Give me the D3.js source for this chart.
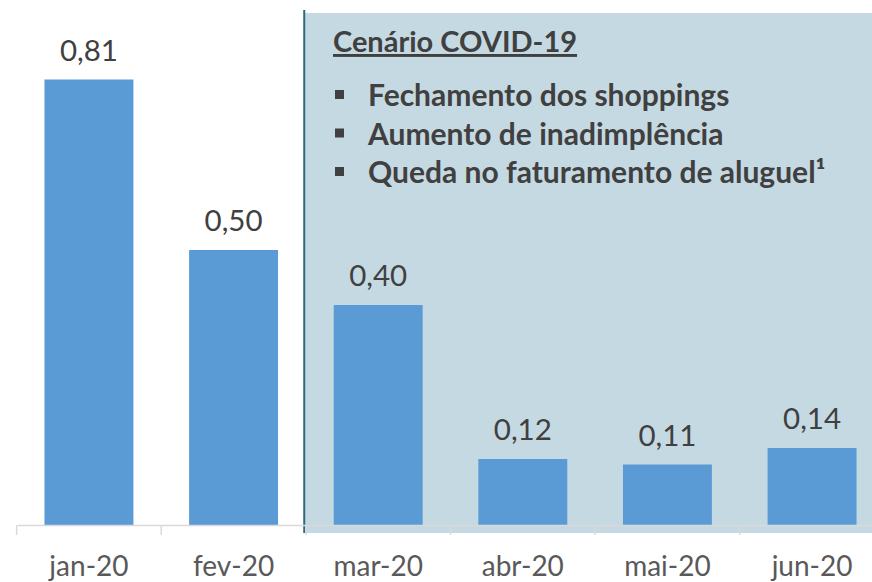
<!DOCTYPE html>
<html>
<head>
<meta charset="utf-8">
<script src="https://cdn.jsdelivr.net/npm/d3@7"></script>
<style>
  body { margin: 0; background: #fff; }
  text { font-family: Lato, "Open Sans", sans-serif; }
</style>
</head>
<body>
<div id="chart"></div>
<script>
var months = ["jan-20", "fev-20", "mar-20", "abr-20", "mai-20", "jun-20"];
var values = [0.81, 0.50, 0.40, 0.12, 0.11, 0.14];
var noteTitle = "Cenário COVID-19";
var noteItems = ["Fechamento dos shoppings", "Aumento de inadimplência", "Queda no faturamento de aluguel¹"];

var width = 872, height = 582;
var baseY = 525;

var svg = d3.select("#chart").append("svg")
    .attr("width", width)
    .attr("height", height);

var x = d3.scaleBand()
    .domain(months)
    .range([17, 17 + 6 * 144.5])
    .paddingInner(0.385)
    .paddingOuter(0.19);

var y = d3.scaleLinear()
    .domain([0, 1])
    .range([baseY, baseY - 550]);

// shaded covid area
var shadeX = x.step() * 2 + 17 - 2;
svg.append("rect")
    .attr("x", shadeX)
    .attr("y", 13)
    .attr("width", width - shadeX)
    .attr("height", 533 - 13)
    .attr("fill", "#c5d9e2");

svg.append("line")
    .attr("x1", shadeX).attr("x2", shadeX)
    .attr("y1", 10).attr("y2", 533)
    .attr("stroke", "#2f6a7c")
    .attr("stroke-width", 2);

// bars
svg.selectAll("rect.bar")
    .data(values)
    .enter()
  .append("rect")
    .attr("class", "bar")
    .attr("x", function(d, i) { return x(months[i]); })
    .attr("y", function(d) { return y(d); })
    .attr("width", x.bandwidth())
    .attr("height", function(d) { return baseY - y(d); })
    .attr("fill", "#5b9bd5");

// value labels
svg.selectAll("text.val")
    .data(values)
    .enter()
  .append("text")
    .attr("class", "val")
    .attr("x", function(d, i) { return x(months[i]) + x.bandwidth() / 2; })
    .attr("y", function(d) { return y(d) - 19; })
    .attr("text-anchor", "middle")
    .attr("font-size", 29.5)
    .attr("fill", "#404040")
    .text(function(d) { return d.toFixed(2).replace(".", ","); });

// axis
var axis = svg.append("g")
    .attr("transform", "translate(0," + baseY + ")")
    .call(d3.axisBottom(x).tickSize(0).tickPadding(31));

axis.select(".domain")
    .attr("stroke", "#d9d9d9")
    .attr("stroke-width", 1.5);

axis.selectAll("text")
    .attr("font-size", 28)
    .attr("font-family", "Lato, sans-serif")
    .attr("fill", "#595959");

axis.selectAll(".sep")
    .data(months)
    .enter()
  .append("line")
    .attr("class", "sep")
    .attr("x1", function(d) { return x(d) - x.step() * x.paddingInner() / 2; })
    .attr("x2", function(d) { return x(d) - x.step() * x.paddingInner() / 2; })
    .attr("y1", 0)
    .attr("y2", 10)
    .attr("stroke", "#d9d9d9")
    .attr("stroke-width", 1.5);

// note box
var note = svg.append("g");

note.append("text")
    .attr("x", 333)
    .attr("y", 52)
    .attr("font-size", 29)
    .attr("font-weight", "bold")
    .attr("fill", "#404040")
    .attr("text-decoration", "underline")
    .text(noteTitle);

var items = note.selectAll("g.item")
    .data(noteItems)
    .enter()
  .append("g")
    .attr("class", "item")
    .attr("transform", function(d, i) { return "translate(0," + (106 + i * 38.5) + ")"; });

items.append("rect")
    .attr("x", 335)
    .attr("y", -16)
    .attr("width", 9)
    .attr("height", 9)
    .attr("fill", "#404040");

items.append("text")
    .attr("x", 368)
    .attr("y", 0)
    .attr("font-size", 30)
    .attr("font-weight", "bold")
    .attr("fill", "#404040")
    .text(function(d) { return d; });
</script>
</body>
</html>
